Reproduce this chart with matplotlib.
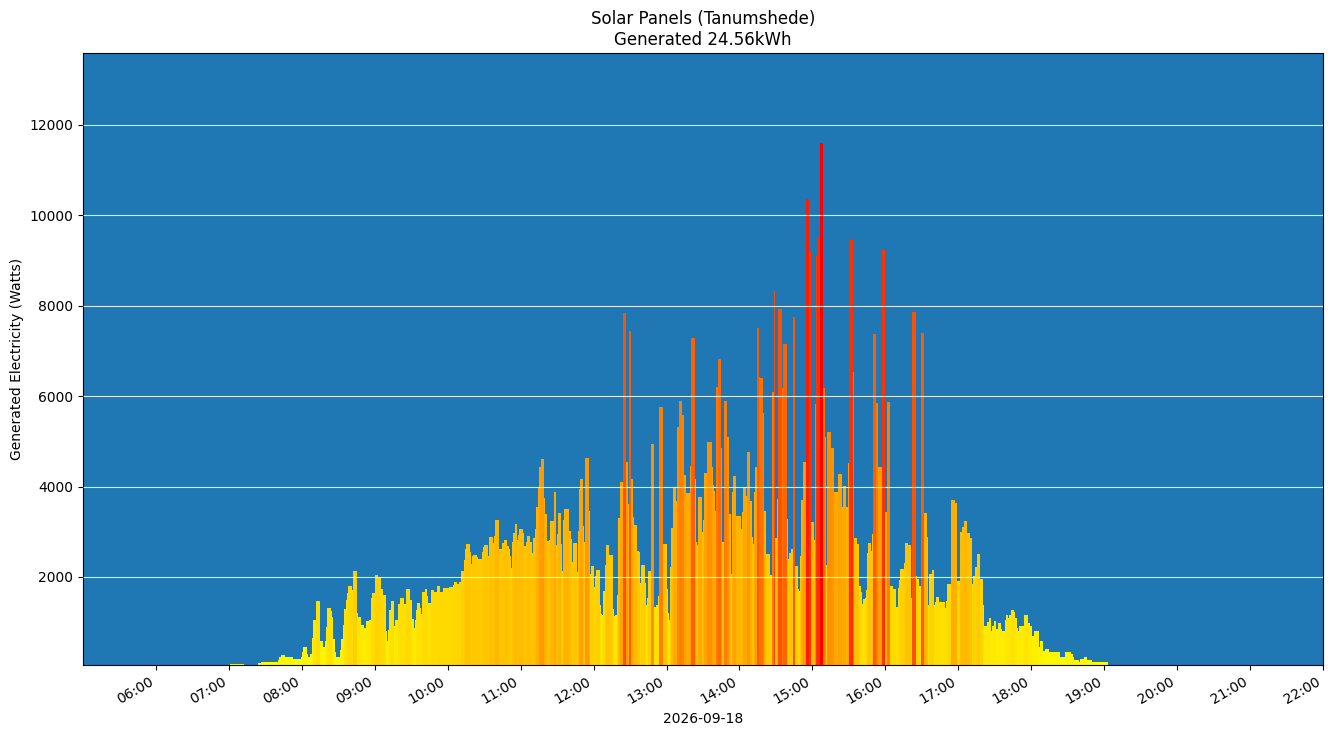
import numpy as np
import pandas as pd
import matplotlib
matplotlib.use("Agg")
import matplotlib.pyplot as plt
import matplotlib.dates as mdates

day = "2026-09-18"
start_time = "07:00"
title_text = "Solar Panels (Tanumshede)\nGenerated 24.56kWh"

# one reading per minute from 07:00, watts
watts = [
    0, 70, 70, 70, 70, 70, 70, 70, 70, 70, 70, 70, 0, 0, 0,
    0, 0, 0, 0, 0, 0, 0, 0, 0, 100, 100, 120, 120, 120, 120,
    120, 120, 120, 120, 120, 120, 120, 120, 120, 120, 165, 230, 230, 275, 275,
    275, 230, 230, 230, 230, 230, 230, 230, 180, 180, 195, 195, 195, 195, 240,
    340, 450, 450, 450, 300, 230, 230, 300, 650, 1050, 1050, 1050, 1470, 1470, 1470,
    585, 585, 450, 450, 585, 895, 1315, 1315, 1315, 1250, 1115, 630, 340, 230, 230,
    230, 385, 630, 630, 940, 1295, 1490, 1650, 1800, 1800, 1800, 1715, 2135, 2135, 2135,
    1205, 1115, 1115, 1115, 940, 940, 870, 870, 1025, 1025, 1050, 1050, 1535, 1645, 1645,
    2045, 2045, 2045, 1980, 1980, 1735, 1735, 1600, 1600, 805, 585, 830, 1270, 1470, 1470,
    1470, 915, 1050, 1050, 1405, 1405, 1535, 1535, 1535, 1405, 1405, 1735, 1735, 1735, 1490,
    1490, 1070, 870, 1050, 1270, 1425, 1425, 1315, 1180, 1670, 1670, 1735, 1735, 1580, 1425,
    1425, 1715, 1715, 1715, 1670, 1670, 1800, 1800, 1800, 1670, 1670, 1760, 1760, 1760, 1760,
    1760, 1780, 1780, 1780, 1825, 1890, 1890, 1890, 1845, 1890, 1890, 2135, 2135, 2375, 2620,
    2730, 2730, 2730, 2555, 2290, 2465, 2490, 2490, 2490, 2445, 2400, 2400, 2400, 2555, 2665,
    2710, 2710, 2710, 2465, 2885, 2885, 2885, 2755, 2905, 3260, 3260, 3260, 2620, 2620, 2620,
    2755, 2820, 2820, 2820, 2685, 2620, 2465, 2200, 2775, 2975, 3175, 3175, 2820, 2930, 3060,
    3060, 3060, 2975, 2685, 2775, 2905, 2905, 2905, 2775, 2530, 2865, 2865, 3060, 3550, 3970,
    4435, 4435, 4610, 4610, 3750, 3395, 3395, 2800, 2820, 3240, 3240, 3240, 3880, 3880, 2710,
    2955, 3420, 3420, 2730, 2135, 3265, 3505, 3505, 3505, 3505, 3020, 2845, 2335, 2755, 2755,
    2755, 2115, 3020, 3950, 4170, 4170, 3130, 2775, 4635, 4635, 4635, 3460, 2070, 2245, 2245,
    1780, 2025, 2155, 2155, 2155, 1385, 1185, 1160, 1695, 2270, 2710, 2710, 2710, 2490, 2490,
    2490, 1295, 1140, 1160, 1605, 3305, 3305, 4105, 4105, 7840, 7840, 7840, 4545, 3615, 7440,
    7440, 4170, 3330, 3150, 3150, 3150, 2575, 2555, 1870, 2270, 2270, 2270, 1870, 1385, 1540,
    2135, 2135, 4945, 4945, 4945, 1340, 1385, 1385, 1580, 5760, 5760, 5760, 2730, 2730, 2730,
    1735, 1205, 1050, 2225, 3085, 3970, 3970, 3970, 3685, 5320, 5895, 5895, 5895, 5585, 4260,
    4260, 3860, 3860, 3860, 4455, 7285, 7285, 7285, 4170, 2775, 2710, 3770, 3770, 3770, 3000,
    3265, 4300, 4300, 4990, 4990, 4990, 4990, 4435, 4035, 3905, 3460, 6205, 6825, 6825, 6825,
    4855, 2775, 5895, 5895, 5895, 5100, 3395, 3395, 2060, 3880, 4235, 4235, 3350, 3350, 3350,
    3350, 3065, 3440, 3995, 3995, 3795, 4765, 4765, 4765, 3685, 2885, 2730, 3880, 4435, 7510,
    7510, 6425, 6405, 6405, 5630, 3460, 3460, 2510, 2510, 2510, 2045, 2045, 6095, 8320, 2860,
    2860, 3730, 7925, 7925, 7925, 6175, 7155, 7155, 7155, 3280, 2405, 2520, 2615, 2615, 7750,
    7750, 2245, 2245, 1740, 1695, 2470, 3705, 4550, 4550, 4550, 10370, 10370, 9190, 9190, 3205,
    3205, 2815, 5830, 9095, 9495, 9495, 11600, 11600, 11600, 6190, 5085, 2265, 5205, 5205, 5205,
    4855, 4855, 4855, 3880, 3880, 3880, 4275, 4275, 4275, 3545, 4005, 4005, 4005, 3545, 4530,
    9445, 9445, 9445, 6530, 2860, 2860, 2860, 2730, 1800, 1800, 1665, 1400, 1515, 1540, 1715,
    2535, 2755, 2755, 2580, 2955, 7375, 7375, 5850, 5850, 4435, 4435, 4435, 9255, 9255, 9255,
    3440, 5870, 5870, 5870, 1805, 1805, 1740, 1740, 1740, 1340, 1760, 1935, 2180, 2180, 2180,
    2310, 2755, 2755, 2755, 2710, 2710, 1540, 7860, 7860, 7860, 2025, 1960, 1960, 1805, 7400,
    7400, 7400, 3420, 3420, 2885, 1385, 2070, 2070, 2155, 2155, 1385, 1450, 1560, 1560, 1450,
    1450, 1450, 1450, 1450, 1315, 1470, 1850, 1850, 1850, 3705, 3705, 3705, 3640, 3640, 1910,
    1910, 2995, 2995, 3105, 3105, 3240, 3240, 2975, 2975, 2975, 2865, 1845, 2025, 2025, 2220,
    2510, 2510, 2510, 1955, 1955, 1380, 915, 915, 915, 1005, 1095, 1095, 805, 915, 1025,
    1025, 850, 850, 985, 985, 850, 805, 805, 1050, 1160, 1160, 1095, 1160, 1270, 1270,
    1270, 1225, 1095, 875, 805, 915, 915, 915, 915, 1160, 1160, 1160, 985, 985, 915,
    915, 685, 805, 805, 805, 805, 455, 585, 585, 585, 365, 410, 410, 410, 410,
    340, 340, 340, 340, 340, 340, 340, 340, 340, 230, 230, 230, 230, 340, 340,
    340, 340, 340, 300, 230, 165, 165, 165, 165, 120, 190, 190, 190, 230, 230,
    230, 165, 165, 165, 165, 120, 120, 120, 120, 120, 120, 120, 120, 120, 120,
    120, 120, 120,
]

hour_ticks = [f"{h:02d}:00" for h in range(6, 23)]

times = pd.date_range(f"{day} {start_time}", periods=len(watts), freq="min")
values = np.array(watts, dtype=float)

cmap = plt.get_cmap("autumn_r")
colours = cmap(values / values.max())

fig = plt.figure(figsize=(13.33, 7.36), dpi=100)
ax = fig.add_subplot(111)
ax.set_facecolor("#1f77b4")

ax.bar(times, values, width=1 / 1440, align="edge", color=colours, linewidth=0)

ax.set_axisbelow(False)
ax.yaxis.grid(True, color="white", linewidth=0.8, alpha=0.85)
ax.set_yticks(range(2000, 12001, 2000))
ax.set_ylim(53, 13590)

ax.set_xlim(pd.Timestamp(f"{day} 05:00"), pd.Timestamp(f"{day} 22:00"))
ax.set_xticks([pd.Timestamp(f"{day} {t}") for t in hour_ticks])
ax.xaxis.set_major_formatter(mdates.DateFormatter("%H:%M"))
fig.autofmt_xdate()

ax.set_xlabel(day)
ax.set_ylabel("Generated Electricity (Watts)")
ax.set_title(title_text)

fig.subplots_adjust(left=0.0623, right=0.9925, top=0.928, bottom=0.0965)
fig.savefig("out.png")
